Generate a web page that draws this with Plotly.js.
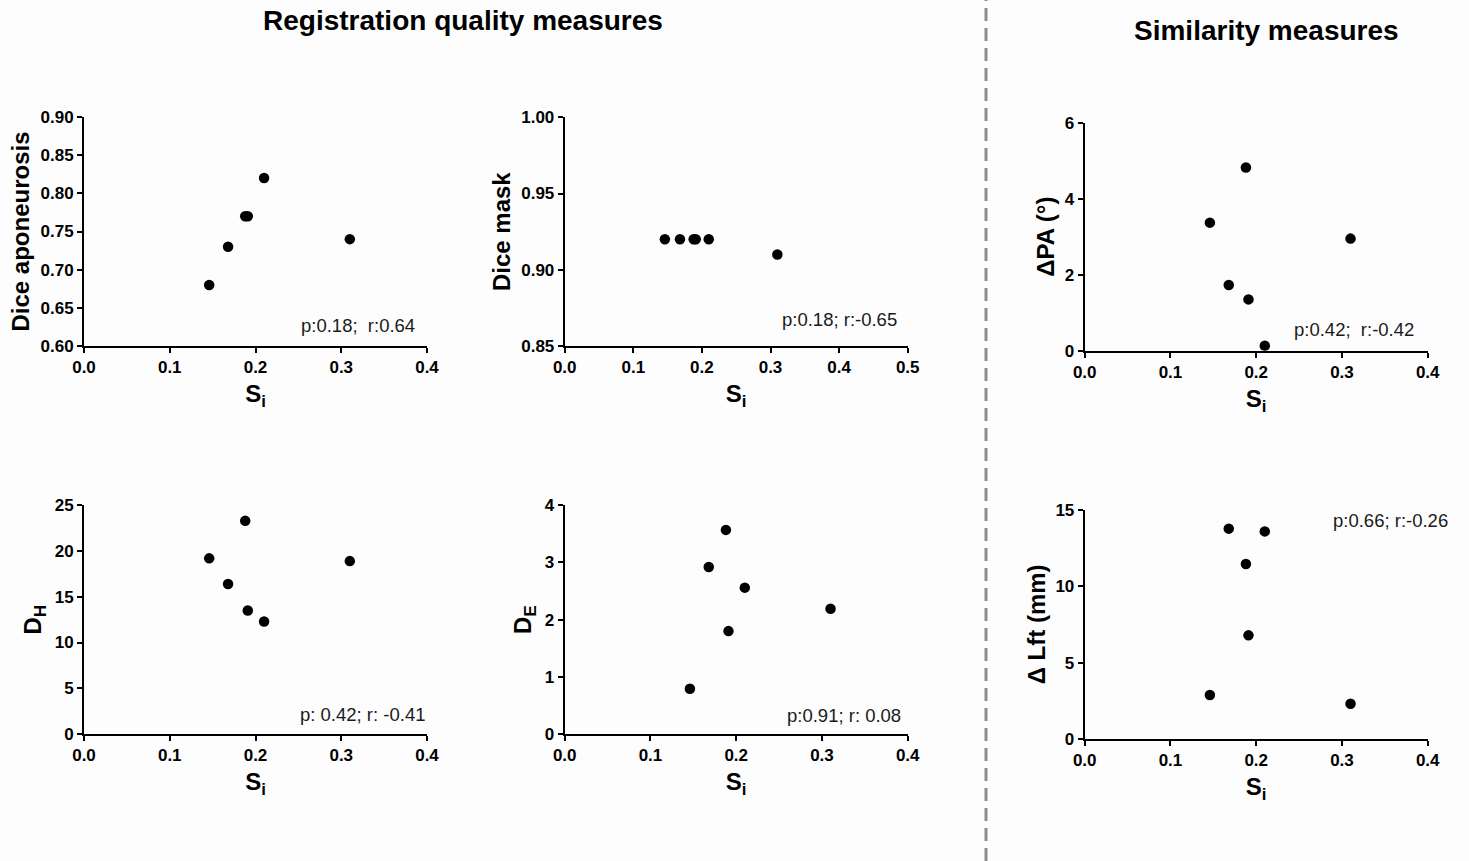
<!DOCTYPE html>
<html>
<head>
<meta charset="utf-8">
<script src="https://cdn.plot.ly/plotly-3.0.1.min.js"></script>
<style>
  html, body { margin: 0; padding: 0; background: #fdfdfd; }
  #chart { width: 1469px; height: 861px; }
</style>
</head>
<body>
<div id="chart"></div>
<script>
// ---- Data ----
const si        = [0.146, 0.168, 0.188, 0.191, 0.21, 0.31];
const diceApo   = [0.68, 0.73, 0.77, 0.77, 0.82, 0.74];
const diceMask  = [0.92, 0.92, 0.92, 0.92, 0.92, 0.91];
const deltaPA   = [3.37, 1.73, 4.82, 1.35, 0.13, 2.95];
const dH        = [19.2, 16.4, 23.3, 13.5, 12.3, 18.9];
const dE        = [0.79, 2.92, 3.57, 1.80, 2.56, 2.19];
const deltaLft  = [2.88, 13.76, 11.45, 6.78, 13.58, 2.31];

const panelTitlesY = ['Dice aponeurosis', 'Dice mask', 'ΔPA (°)', 'D<sub>H</sub>', 'D<sub>E</sub>', 'Δ Lft (mm)'];
const panelStats   = ['p:0.18;\u00A0\u00A0r:0.64', 'p:0.18; r:-0.65', 'p:0.42;\u00A0\u00A0r:-0.42',
                      'p: 0.42; r: -0.41', 'p:0.91; r: 0.08', 'p:0.66; r:-0.26'];
const sectionTitles = ['Registration quality measures', 'Similarity measures'];

// ---- Layout geometry (pixels) ----
const W = 1469, H = 861;
const panels = [
  {y: diceApo,  x0: 84,    x1: 427,   top: 117,   bot: 346,   xr: [0, 0.4], yr: [0.60, 0.90], ydt: 0.05, yfmt: '.2f', xdt: 0.1, stat: {x: 417, y: 325}, ystand: 4},
  {y: diceMask, x0: 564.7, x1: 907.7, top: 117.3, bot: 346,   xr: [0, 0.5], yr: [0.85, 1.00], ydt: 0.05, yfmt: '.2f', xdt: 0.1, stat: {x: 899, y: 319}, ystand: 4},
  {y: deltaPA,  x0: 1084.7,x1: 1427.7,top: 122.7, bot: 350.7, xr: [0, 0.4], yr: [0, 6],       ydt: 2,    yfmt: '',    xdt: 0.1, stat: {x: 1416, y: 330}, ystand: 3},
  {y: dH,       x0: 84,    x1: 427,   top: 505.3, bot: 734,   xr: [0, 0.4], yr: [0, 25],      ydt: 5,    yfmt: '',    xdt: 0.1, stat: {x: 427, y: 714}, ystand: 6},
  {y: dE,       x0: 564.7, x1: 907.7, top: 505.3, bot: 734,   xr: [0, 0.4], yr: [0, 4],       ydt: 1,    yfmt: '',    xdt: 0.1, stat: {x: 903, y: 715}, ystand: 6},
  {y: deltaLft, x0: 1084.7,x1: 1427.7,top: 509.7, bot: 739,   xr: [0, 0.4], yr: [0, 15],      ydt: 5,    yfmt: '',    xdt: 0.1, stat: {x: 1450, y: 520}, ystand: 3},
];

const FONT = 'Liberation Sans, Arial, sans-serif';
const traces = [];
const layout = {
  width: W, height: H,
  margin: {l: 0, r: 0, t: 0, b: 0, autoexpand: false},
  paper_bgcolor: '#fdfdfd',
  plot_bgcolor: 'rgba(0,0,0,0)',
  showlegend: false,
  font: {family: FONT, color: '#000'},
  annotations: [],
  shapes: []
};

panels.forEach((p, i) => {
  const n = i + 1;
  const xa = 'xaxis' + (n === 1 ? '' : n);
  const ya = 'yaxis' + (n === 1 ? '' : n);
  const xref = 'x' + (n === 1 ? '' : n);
  const yref = 'y' + (n === 1 ? '' : n);
  traces.push({
    type: 'scatter', mode: 'markers',
    x: si, y: p.y,
    xaxis: xref, yaxis: yref,
    marker: {color: '#000', size: 10.5},
    hoverinfo: 'x+y'
  });
  const common = {
    showline: true, linecolor: '#000', linewidth: 2,
    ticks: 'outside', ticklen: 5, tickwidth: 2, tickcolor: '#000',
    showgrid: false, zeroline: false,
    tickfont: {family: FONT, size: 17, weight: 'bold', color: '#000'},
    fixedrange: true
  };
  layout[xa] = Object.assign({}, common, {
    domain: [p.x0 / W, p.x1 / W],
    anchor: yref,
    range: p.xr, tick0: 0, dtick: p.xdt, tickformat: '.1f',
    automargin: true,
    title: {text: 'S<sub>i</sub>', font: {family: FONT, size: 24, weight: 'bold', color: '#000'}, standoff: 9}
  });
  layout[ya] = Object.assign({}, common, {
    domain: [1 - p.bot / H, 1 - p.top / H],
    anchor: xref,
    range: p.yr, tick0: p.yr[0], dtick: p.ydt, tickformat: p.yfmt,
    automargin: true,
    title: {text: panelTitlesY[i], font: {family: FONT, size: 24, weight: 'bold', color: '#000'}, standoff: p.ystand}
  });
  layout.annotations.push({
    xref: 'paper', yref: 'paper',
    x: p.stat.x / W, y: 1 - p.stat.y / H,
    xanchor: 'right', yanchor: 'middle',
    text: panelStats[i], showarrow: false,
    font: {family: FONT, size: 18.5, color: '#1a1a1a'}
  });
});

// section titles
layout.annotations.push({
  xref: 'paper', yref: 'paper', x: 463 / W, y: 1 - 20 / H,
  xanchor: 'center', yanchor: 'middle', showarrow: false,
  text: sectionTitles[0], font: {family: FONT, size: 28, weight: 'bold', color: '#000'}
});
layout.annotations.push({
  xref: 'paper', yref: 'paper', x: 1266 / W, y: 1 - 30 / H,
  xanchor: 'center', yanchor: 'middle', showarrow: false,
  text: sectionTitles[1], font: {family: FONT, size: 28, weight: 'bold', color: '#000'}
});

// dashed separator
layout.shapes.push({
  type: 'line', xref: 'paper', yref: 'paper',
  x0: 986 / W, x1: 986 / W, y0: 0, y1: 1,
  line: {color: '#8c8c8c', width: 3, dash: '13px,7px'}
});

Plotly.newPlot('chart', traces, layout, {displayModeBar: false});
</script>
</body>
</html>
